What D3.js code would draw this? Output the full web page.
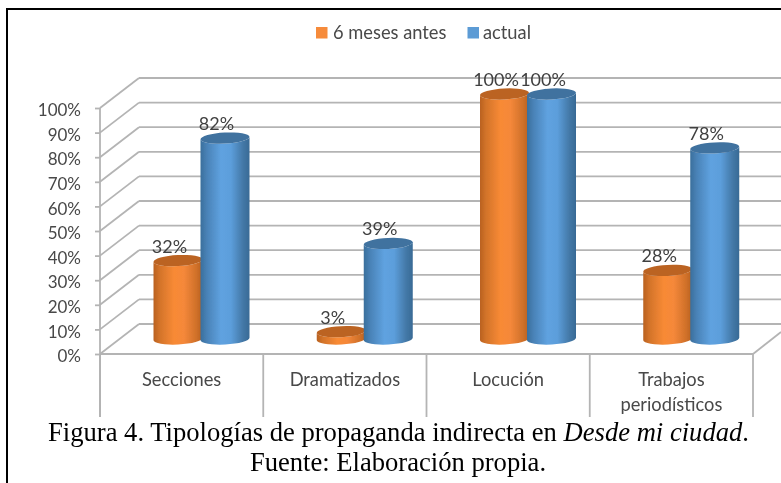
<!DOCTYPE html>
<html>
<head>
<meta charset="utf-8">
<script src="https://cdn.jsdelivr.net/npm/d3@7"></script>
<style>
html,body{margin:0;padding:0;background:#fff;overflow:hidden}
svg{display:block}
</style>
</head>
<body>
<div class="canvas"></div>
<script>
const categories=['Secciones','Dramatizados','Locución','Trabajos periodísticos'];
const seriesNames=['6 meses antes','actual'];
const antes=[32,3,100,28];
const actual=[82,39,100,78];
const tickValues=[0,10,20,30,40,50,60,70,80,90,100];

const width=781,height=483;
const depthX=39,depthY=30;
const rx=24.5,ry=5.5,tilt=1.3;
const labelFont='Lato, "Open Sans", sans-serif';
const gridColor='#b4b4b4';
const textColor='#484848';

const svg=d3.select('.canvas').append('svg')
.attr('width',width)
.attr('height',height);

const defs=svg.append('defs');
defs.append('filter').attr('id','soft')
.attr('x',-0.05).attr('y',-0.05).attr('width',1.1).attr('height',1.1)
.append('feGaussianBlur').attr('stdDeviation',0.6);

const gradient=(id,stops)=>{
    const g=defs.append('linearGradient').attr('id',id);
    stops.forEach(s=>g.append('stop').attr('offset',s[0]).attr('stop-color',s[1]));
};
gradient('gradOrange',[[0,'#b9611f'],[0.12,'#d2732a'],[0.42,'#f88a35'],[0.62,'#f5883a'],[0.88,'#cf7029'],[1,'#b8601f']]);
gradient('gradBlue',[[0,'#3a6f9c'],[0.14,'#4a83b8'],[0.42,'#5fa2e0'],[0.62,'#5c9edb'],[0.86,'#4479a8'],[1,'#386a95']]);

const chart=svg.append('g').attr('filter','url(#soft)');

// scales
const x=d3.scaleBand().domain(categories).range([100,753]);
const yAxisScale=d3.scaleLinear().domain([0,100]).range([354,108]);
const yBar=d3.scaleLinear().domain([0,100]).range([339,94]);
const xSeries=d3.scaleBand().domain(seriesNames).range([53.5,147.5]);
const color=d3.scaleOrdinal().domain(seriesNames).range(['url(#gradOrange)','url(#gradBlue)']);
const topColor=d3.scaleOrdinal().domain(seriesNames).range(['#bb6322','#40729f']);
const legendColor=d3.scaleOrdinal().domain(seriesNames).range(['#f68b3a','#5b9bd5']);

// back wall + side wall
const grid=chart.append('g');
tickValues.forEach(t=>{
    const yy=yAxisScale(t);
    grid.append('line').attr('x1',100).attr('y1',yy).attr('x2',100+depthX).attr('y2',yy-depthY);
    grid.append('line').attr('x1',100+depthX).attr('y1',yy-depthY).attr('x2',width).attr('y2',yy-depthY);
});
grid.append('line').attr('x1',753).attr('y1',354).attr('x2',781).attr('y2',332);
grid.selectAll('line').attr('stroke',gridColor).attr('stroke-width',1.8);

// y axis
const yAxis=d3.axisLeft(yAxisScale).tickValues(tickValues).tickSize(5).tickPadding(14).tickFormat(d=>`${d}%`);
const yAxisGroup=chart.append('g').call(yAxis);
yAxisGroup.select('.domain').remove();
yAxisGroup.attr('transform','translate(100,0)');
yAxisGroup.selectAll('line').attr('stroke',gridColor).attr('stroke-width',1.8);
yAxisGroup.selectAll('text')
.attr('font-family',labelFont).attr('font-size',17).attr('fill',textColor).attr('dy','0.45em');

// floor line + category dividers
const dividers=categories.map(c=>x(c)).concat([x.range()[1]]);
chart.append('line').attr('x1',100).attr('y1',108).attr('x2',100).attr('y2',417)
.attr('stroke',gridColor).attr('stroke-width',1.8);
chart.append('line').attr('x1',100).attr('y1',354).attr('x2',753).attr('y2',354)
.attr('stroke',gridColor).attr('stroke-width',2.2);
chart.selectAll('.divider').data(dividers).enter().append('line')
.attr('class','divider')
.attr('x1',d=>d).attr('x2',d=>d).attr('y1',354).attr('y2',417)
.attr('stroke',gridColor).attr('stroke-width',1.8);

// cylinders
const bars=[];
categories.forEach((c,i)=>{
    bars.push({cat:c,name:seriesNames[0],value:antes[i]});
    bars.push({cat:c,name:seriesNames[1],value:actual[i]});
});
const barLeft=d=>x(d.cat)+xSeries(d.name);
const bodyPath=d=>{
    const x0=barLeft(d),x1=x0+2*rx,yt=yBar(d.value),yb=yBar(0);
    return `M${x0},${yt+tilt}L${x0},${yb+tilt}A${rx},${ry} -3 0 0 ${x1},${yb-tilt}L${x1},${yt-tilt}A${rx},${ry} -3 0 1 ${x0},${yt+tilt}Z`;
};
const cyl=chart.selectAll('.cyl').data(bars).enter().append('g').attr('class','cyl');
cyl.append('path').attr('d',bodyPath).attr('fill',d=>color(d.name));
cyl.append('ellipse')
.attr('rx',rx).attr('ry',ry)
.attr('transform',d=>`translate(${barLeft(d)+rx},${yBar(d.value)}) rotate(-3)`)
.attr('fill',d=>topColor(d.name));

// data labels
cyl.append('text')
.attr('x',d=>barLeft(d)+rx-8.5)
.attr('y',d=>yBar(d.value)-8)
.attr('text-anchor','middle')
.attr('font-family',labelFont).attr('font-size',18).attr('fill','#404040')
.text(d=>`${d.value}%`);

// category labels
const catLabels=chart.selectAll('.cat').data(categories).enter().append('text')
.attr('class','cat')
.attr('text-anchor','middle')
.attr('font-family',labelFont).attr('font-size',18.3).attr('fill',textColor);
catLabels.each(function(d){
    const cx=x(d)+x.bandwidth()/2;
    const words=d==='Trabajos periodísticos'?d.split(' '):[d];
    d3.select(this).selectAll('tspan').data(words).enter().append('tspan')
    .attr('x',cx).attr('y',(w,i)=>386+i*25).text(w=>w);
});

// legend
const legendX=[316,467.5],legendTextX=[333,483];
seriesNames.forEach((s,i)=>{
    chart.append('rect').attr('x',legendX[i]).attr('y',27).attr('width',11.5).attr('height',11.5)
    .attr('fill',legendColor(s));
    chart.append('text').attr('x',legendTextX[i]).attr('y',38.5)
    .attr('font-family',labelFont).attr('font-size',18.3).attr('fill',textColor).text(s);
});

// frame
svg.append('line').attr('x1',7).attr('y1',9).attr('x2',width).attr('y2',9).attr('stroke','#000').attr('stroke-width',2);
svg.append('line').attr('x1',7).attr('y1',8).attr('x2',7).attr('y2',height).attr('stroke','#000').attr('stroke-width',2);

// caption
const cap1=svg.append('text').attr('x',398.5).attr('y',441)
.attr('text-anchor','middle').attr('font-family','"Liberation Serif", serif').attr('font-size',26.6).attr('fill','#000');
cap1.append('tspan').text('Figura 4. Tipologías de propaganda indirecta en ');
cap1.append('tspan').attr('font-style','italic').text('Desde mi ciudad');
cap1.append('tspan').text('.');
svg.append('text').attr('x',398).attr('y',470.5)
.attr('text-anchor','middle').attr('font-family','"Liberation Serif", serif').attr('font-size',26.6).attr('fill','#000')
.text('Fuente: Elaboración propia.');
</script>
</body>
</html>
